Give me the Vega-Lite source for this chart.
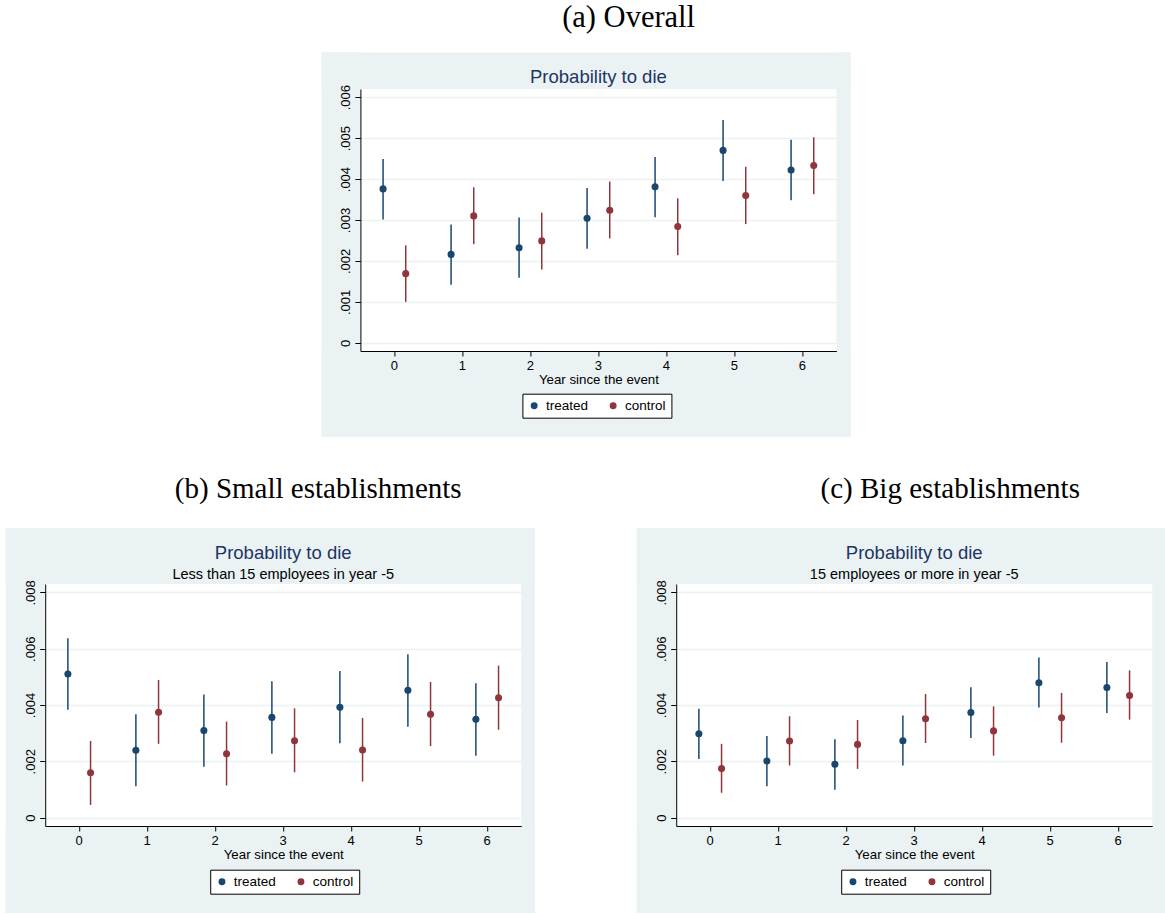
{
  "$schema": "https://vega.github.io/schema/vega-lite/v6.json",
  "background": "white",
  "padding": {"left": 5, "top": 2, "right": 0, "bottom": 0},
  "config": {
    "font": "Liberation Sans",
    "view": {"stroke": null, "fill": "white"},
    "axis": {
      "domainColor": "black", "domainWidth": 1, "tickColor": "black", "tickWidth": 1, "tickSize": 5,
      "labelColor": "black", "labelFont": "Liberation Sans", "labelFontSize": 13,
      "titleFont": "Liberation Sans", "titleFontSize": 13.3, "titleFontWeight": "normal", "titleColor": "black",
      "gridColor": "#EAF2F3", "gridWidth": 1.5
    },
    "legend": {
      "orient": "none", "zindex": 2, "direction": "horizontal", "title": null, "symbolType": "circle", "symbolSize": 48, "symbolStrokeWidth": 0,
      "labelFont": "Liberation Sans", "labelFontSize": 13.5, "labelColor": "black", "labelOffset": 5, "columnPadding": 18, "padding": 5,
      "strokeColor": "black", "fillColor": "white"
    }
  },
  "datasets": {
    "A": [
      {"year": 0, "group": "treated", "est": 0.00376, "lo": 0.00301, "hi": 0.00449},
      {"year": 1, "group": "treated", "est": 0.00216, "lo": 0.00142, "hi": 0.00289},
      {"year": 2, "group": "treated", "est": 0.00232, "lo": 0.00159, "hi": 0.00306},
      {"year": 3, "group": "treated", "est": 0.00304, "lo": 0.00230, "hi": 0.00378},
      {"year": 4, "group": "treated", "est": 0.00381, "lo": 0.00307, "hi": 0.00454},
      {"year": 5, "group": "treated", "est": 0.00470, "lo": 0.00395, "hi": 0.00544},
      {"year": 6, "group": "treated", "est": 0.00422, "lo": 0.00348, "hi": 0.00496},
      {"year": 0, "group": "control", "est": 0.00169, "lo": 0.00100, "hi": 0.00238},
      {"year": 1, "group": "control", "est": 0.00310, "lo": 0.00241, "hi": 0.00380},
      {"year": 2, "group": "control", "est": 0.00249, "lo": 0.00179, "hi": 0.00318},
      {"year": 3, "group": "control", "est": 0.00324, "lo": 0.00255, "hi": 0.00394},
      {"year": 4, "group": "control", "est": 0.00284, "lo": 0.00214, "hi": 0.00353},
      {"year": 5, "group": "control", "est": 0.00360, "lo": 0.00290, "hi": 0.00430},
      {"year": 6, "group": "control", "est": 0.00433, "lo": 0.00363, "hi": 0.00502}
    ],
    "B": [
      {"year": 0, "group": "treated", "est": 0.00510, "lo": 0.00383, "hi": 0.00637},
      {"year": 1, "group": "treated", "est": 0.00239, "lo": 0.00111, "hi": 0.00367},
      {"year": 2, "group": "treated", "est": 0.00309, "lo": 0.00181, "hi": 0.00437},
      {"year": 3, "group": "treated", "est": 0.00356, "lo": 0.00227, "hi": 0.00484},
      {"year": 4, "group": "treated", "est": 0.00392, "lo": 0.00264, "hi": 0.00521},
      {"year": 5, "group": "treated", "est": 0.00452, "lo": 0.00323, "hi": 0.00580},
      {"year": 6, "group": "treated", "est": 0.00349, "lo": 0.00220, "hi": 0.00477},
      {"year": 0, "group": "control", "est": 0.00159, "lo": 0.00045, "hi": 0.00272},
      {"year": 1, "group": "control", "est": 0.00374, "lo": 0.00262, "hi": 0.00489},
      {"year": 2, "group": "control", "est": 0.00227, "lo": 0.00114, "hi": 0.00341},
      {"year": 3, "group": "control", "est": 0.00273, "lo": 0.00161, "hi": 0.00388},
      {"year": 4, "group": "control", "est": 0.00240, "lo": 0.00128, "hi": 0.00354},
      {"year": 5, "group": "control", "est": 0.00367, "lo": 0.00254, "hi": 0.00482},
      {"year": 6, "group": "control", "est": 0.00426, "lo": 0.00312, "hi": 0.00540}
    ],
    "C": [
      {"year": 0, "group": "treated", "est": 0.00298, "lo": 0.00208, "hi": 0.00387},
      {"year": 1, "group": "treated", "est": 0.00201, "lo": 0.00111, "hi": 0.00290},
      {"year": 2, "group": "treated", "est": 0.00189, "lo": 0.00099, "hi": 0.00278},
      {"year": 3, "group": "treated", "est": 0.00273, "lo": 0.00185, "hi": 0.00363},
      {"year": 4, "group": "treated", "est": 0.00373, "lo": 0.00283, "hi": 0.00463},
      {"year": 5, "group": "treated", "est": 0.00479, "lo": 0.00391, "hi": 0.00569},
      {"year": 6, "group": "treated", "est": 0.00462, "lo": 0.00372, "hi": 0.00553},
      {"year": 0, "group": "control", "est": 0.00174, "lo": 0.00088, "hi": 0.00262},
      {"year": 1, "group": "control", "est": 0.00272, "lo": 0.00185, "hi": 0.00360},
      {"year": 2, "group": "control", "est": 0.00260, "lo": 0.00173, "hi": 0.00347},
      {"year": 3, "group": "control", "est": 0.00351, "lo": 0.00265, "hi": 0.00439},
      {"year": 4, "group": "control", "est": 0.00308, "lo": 0.00220, "hi": 0.00395},
      {"year": 5, "group": "control", "est": 0.00355, "lo": 0.00266, "hi": 0.00443},
      {"year": 6, "group": "control", "est": 0.00434, "lo": 0.00348, "hi": 0.00523}
    ]
  },
  "spacing": 38,
  "center": true,
  "resolve": {"scale": {"color": "independent", "stroke": "independent", "xOffset": "independent"}, "legend": {"color": "independent", "stroke": "independent"}},
  "vconcat": [
    {
      "title": {"text": "(a) Overall", "anchor": "middle", "frame": "bounds", "offset": 19, "dx": 42.5, "font": "Liberation Serif", "fontSize": 30.5, "fontWeight": "normal", "color": "black"},
      "resolve": {"scale": {"color": "independent", "stroke": "independent", "xOffset": "independent"}, "legend": {"color": "independent", "stroke": "independent"}},
      "vconcat": [
        {
          "width": 476, "height": 262,
          "title": {"text": "Probability to die", "anchor": "middle", "frame": "group", "offset": -34, "font": "Liberation Sans", "fontSize": 18.5, "fontWeight": "normal", "color": "#1e3466"},
          "resolve": {"scale": {"x": "independent"}, "axis": {"y": "independent"}},
          "layer": [
            {
              "data": {"values": [{}]},
              "layer": [
                {"mark": {"type": "rect", "color": "#EAF2F3"}, "encoding": {
                  "x": {"datum": -0.0815, "type": "quantitative", "scale": {"domain": [0, 1], "nice": false, "zero": false}, "axis": null},
                  "x2": {"datum": 1.0298},
                  "y": {"datum": 0.007094, "type": "quantitative", "axis": {"orient": "left", "values": [0, 0.001, 0.002, 0.003, 0.004, 0.005, 0.006], "grid": true, "labels": false, "ticks": false, "domain": false, "title": null, "zindex": 0}},
                  "y2": {"datum": 0.0062}}},
                {"mark": {"type": "rect", "color": "#EAF2F3"}, "encoding": {
                  "x": {"datum": -0.0815, "type": "quantitative", "scale": {"domain": [0, 1], "nice": false, "zero": false}, "axis": null},
                  "x2": {"datum": 1.0298},
                  "y": {"datum": -0.0002, "type": "quantitative", "axis": {"orient": "left", "values": [0, 0.001, 0.002, 0.003, 0.004, 0.005, 0.006], "grid": true, "labels": false, "ticks": false, "domain": false, "title": null, "zindex": 0}},
                  "y2": {"datum": -0.002293}}},
                {"mark": {"type": "rect", "color": "#EAF2F3"}, "encoding": {
                  "x": {"datum": -0.0815, "type": "quantitative", "scale": {"domain": [0, 1], "nice": false, "zero": false}, "axis": null},
                  "x2": {"datum": 0},
                  "y": {"datum": 0.007094, "type": "quantitative", "axis": {"orient": "left", "values": [0, 0.001, 0.002, 0.003, 0.004, 0.005, 0.006], "grid": true, "labels": false, "ticks": false, "domain": false, "title": null, "zindex": 0}},
                  "y2": {"datum": -0.002293}}},
                {"mark": {"type": "rect", "color": "#EAF2F3"}, "encoding": {
                  "x": {"datum": 1, "type": "quantitative", "scale": {"domain": [0, 1], "nice": false, "zero": false}, "axis": null},
                  "x2": {"datum": 1.0298},
                  "y": {"datum": 0.007094, "type": "quantitative", "axis": {"orient": "left", "values": [0, 0.001, 0.002, 0.003, 0.004, 0.005, 0.006], "grid": true, "labels": false, "ticks": false, "domain": false, "title": null, "zindex": 0}},
                  "y2": {"datum": -0.002293}}}
              ]
            },
            {
              "data": {"name": "A"},
              "layer": [
                {"mark": {"type": "point", "filled": true, "size": 50, "opacity": 1}, "encoding": {
                  "x": {"field": "year", "type": "ordinal", "scale": {"type": "band", "paddingInner": 0, "paddingOuter": 0}, "axis": {"orient": "bottom", "title": "Year since the event", "labelAngle": 0, "labelFontSize": 13, "bandPosition": 0.5, "labelPadding": 3, "titlePadding": 0, "grid": false, "zindex": 1}},
                  "xOffset": {"field": "group", "type": "nominal", "sort": ["treated", "control"], "scale": {"paddingOuter": 0.5, "paddingInner": 0}},
                  "y": {"field": "est", "type": "quantitative", "scale": {"domain": [-0.0002, 0.0062], "nice": false, "zero": false}, "axis": {"orient": "left", "values": [0, 0.001, 0.002, 0.003, 0.004, 0.005, 0.006], "labelExpr": "datum.value == 0 ? '0' : replace(format(datum.value, '.3f'), '0.', '.')", "labelFontSize": 13, "labelAngle": 270, "labelAlign": "center", "labelBaseline": "bottom", "labelPadding": 2, "tickSize": 5.5, "grid": false, "title": null, "zindex": 1, "labelOverlap": false}},
                  "color": {"field": "group", "type": "nominal", "scale": {"domain": ["treated", "control"], "range": ["#1a476f", "#90353b"]}, "legend": {"orient": "none", "legendX": 162, "legendY": 304.7, "zindex": 2, "direction": "horizontal", "title": null}}}},
                {"mark": {"type": "rule", "strokeWidth": 1.5}, "encoding": {
                  "x": {"field": "year", "type": "ordinal", "scale": {"type": "band", "paddingInner": 0, "paddingOuter": 0}},
                  "xOffset": {"field": "group", "type": "nominal", "sort": ["treated", "control"], "scale": {"paddingOuter": 0.5, "paddingInner": 0}},
                  "y": {"field": "lo", "type": "quantitative", "scale": {"domain": [-0.0002, 0.0062], "nice": false, "zero": false}},
                  "y2": {"field": "hi"},
                  "stroke": {"field": "group", "type": "nominal", "sort": ["treated", "control"], "scale": {"range": ["#1a476f", "#90353b"]}, "legend": null}}}
              ]
            }
          ]
        }
      ]
    },
    {
      "spacing": 101,
      "resolve": {"scale": {"color": "independent", "stroke": "independent", "xOffset": "independent"}, "legend": {"color": "independent", "stroke": "independent"}},
      "hconcat": [
        {
          "title": {"text": "(b) Small establishments", "anchor": "middle", "frame": "bounds", "offset": 24, "dx": 48, "font": "Liberation Serif", "fontSize": 29, "fontWeight": "normal", "color": "black"},
          "resolve": {"scale": {"color": "independent", "stroke": "independent", "xOffset": "independent"}, "legend": {"color": "independent", "stroke": "independent"}},
          "vconcat": [
            {
              "width": 476, "height": 242,
              "title": {"text": "Probability to die", "subtitle": "Less than 15 employees in year -5", "anchor": "middle", "frame": "group", "offset": -53, "font": "Liberation Sans", "fontSize": 18.5, "fontWeight": "normal", "color": "#1e3466", "subtitleFont": "Liberation Sans", "subtitleFontSize": 14.5, "subtitleColor": "black", "subtitlePadding": 5},
              "resolve": {"scale": {"x": "independent"}, "axis": {"y": "independent"}},
              "layer": [
                {
                  "data": {"values": [{}]},
                  "layer": [
                    {"mark": {"type": "rect", "color": "#EAF2F3"}, "encoding": {
                      "x": {"datum": -0.083, "type": "quantitative", "scale": {"domain": [0, 1], "nice": false, "zero": false}, "axis": null},
                      "x2": {"datum": 1.0285},
                      "y": {"datum": 0.01029, "type": "quantitative", "axis": {"orient": "left", "values": [0, 0.002, 0.004, 0.006, 0.008], "grid": true, "labels": false, "ticks": false, "domain": false, "title": null, "zindex": 0}},
                      "y2": {"datum": 0.0083}}},
                    {"mark": {"type": "rect", "color": "#EAF2F3"}, "encoding": {
                      "x": {"datum": -0.083, "type": "quantitative", "scale": {"domain": [0, 1], "nice": false, "zero": false}, "axis": null},
                      "x2": {"datum": 1.0285},
                      "y": {"datum": -0.0003, "type": "quantitative", "axis": {"orient": "left", "values": [0, 0.002, 0.004, 0.006, 0.008], "grid": true, "labels": false, "ticks": false, "domain": false, "title": null, "zindex": 0}},
                      "y2": {"datum": -0.00339}}},
                    {"mark": {"type": "rect", "color": "#EAF2F3"}, "encoding": {
                      "x": {"datum": -0.083, "type": "quantitative", "scale": {"domain": [0, 1], "nice": false, "zero": false}, "axis": null},
                      "x2": {"datum": 0},
                      "y": {"datum": 0.01029, "type": "quantitative", "axis": {"orient": "left", "values": [0, 0.002, 0.004, 0.006, 0.008], "grid": true, "labels": false, "ticks": false, "domain": false, "title": null, "zindex": 0}},
                      "y2": {"datum": -0.00339}}},
                    {"mark": {"type": "rect", "color": "#EAF2F3"}, "encoding": {
                      "x": {"datum": 1, "type": "quantitative", "scale": {"domain": [0, 1], "nice": false, "zero": false}, "axis": null},
                      "x2": {"datum": 1.0285},
                      "y": {"datum": 0.01029, "type": "quantitative", "axis": {"orient": "left", "values": [0, 0.002, 0.004, 0.006, 0.008], "grid": true, "labels": false, "ticks": false, "domain": false, "title": null, "zindex": 0}},
                      "y2": {"datum": -0.00339}}}
                  ]
                },
                {
                  "data": {"name": "B"},
                  "layer": [
                    {"mark": {"type": "point", "filled": true, "size": 50, "opacity": 1}, "encoding": {
                      "x": {"field": "year", "type": "ordinal", "scale": {"type": "band", "paddingInner": 0, "paddingOuter": 0}, "axis": {"orient": "bottom", "title": "Year since the event", "labelAngle": 0, "labelFontSize": 13, "bandPosition": 0.5, "labelPadding": 3, "titlePadding": 0, "grid": false, "zindex": 1}},
                      "xOffset": {"field": "group", "type": "nominal", "sort": ["treated", "control"], "scale": {"paddingOuter": 0.5, "paddingInner": 0}},
                      "y": {"field": "est", "type": "quantitative", "scale": {"domain": [-0.0003, 0.0083], "nice": false, "zero": false}, "axis": {"orient": "left", "values": [0, 0.002, 0.004, 0.006, 0.008], "labelExpr": "datum.value == 0 ? '0' : replace(format(datum.value, '.3f'), '0.', '.')", "labelFontSize": 13, "labelAngle": 270, "labelAlign": "center", "labelBaseline": "bottom", "labelPadding": 2, "tickSize": 5.5, "grid": false, "title": null, "zindex": 1, "labelOverlap": false}},
                      "color": {"field": "group", "type": "nominal", "scale": {"domain": ["treated", "control"], "range": ["#1a476f", "#90353b"]}, "legend": {"orient": "none", "legendX": 165, "legendY": 285.7, "zindex": 2, "direction": "horizontal", "title": null}}}},
                    {"mark": {"type": "rule", "strokeWidth": 1.5}, "encoding": {
                      "x": {"field": "year", "type": "ordinal", "scale": {"type": "band", "paddingInner": 0, "paddingOuter": 0}},
                      "xOffset": {"field": "group", "type": "nominal", "sort": ["treated", "control"], "scale": {"paddingOuter": 0.5, "paddingInner": 0}},
                      "y": {"field": "lo", "type": "quantitative", "scale": {"domain": [-0.0003, 0.0083], "nice": false, "zero": false}},
                      "y2": {"field": "hi"},
                      "stroke": {"field": "group", "type": "nominal", "sort": ["treated", "control"], "scale": {"range": ["#1a476f", "#90353b"]}, "legend": null}}}
                  ]
                }
              ]
            }
          ]
        },
        {
          "title": {"text": "(c) Big establishments", "anchor": "middle", "frame": "bounds", "offset": 24, "dx": 49, "font": "Liberation Serif", "fontSize": 29, "fontWeight": "normal", "color": "black"},
          "resolve": {"scale": {"color": "independent", "stroke": "independent", "xOffset": "independent"}, "legend": {"color": "independent", "stroke": "independent"}},
          "vconcat": [
            {
              "width": 476, "height": 242,
              "title": {"text": "Probability to die", "subtitle": "15 employees or more in year -5", "anchor": "middle", "frame": "group", "offset": -53, "font": "Liberation Sans", "fontSize": 18.5, "fontWeight": "normal", "color": "#1e3466", "subtitleFont": "Liberation Sans", "subtitleFontSize": 14.5, "subtitleColor": "black", "subtitlePadding": 5},
              "resolve": {"scale": {"x": "independent"}, "axis": {"y": "independent"}},
              "layer": [
                {
                  "data": {"values": [{}]},
                  "layer": [
                    {"mark": {"type": "rect", "color": "#EAF2F3"}, "encoding": {
                      "x": {"datum": -0.083, "type": "quantitative", "scale": {"domain": [0, 1], "nice": false, "zero": false}, "axis": null},
                      "x2": {"datum": 1.0285},
                      "y": {"datum": 0.01029, "type": "quantitative", "axis": {"orient": "left", "values": [0, 0.002, 0.004, 0.006, 0.008], "grid": true, "labels": false, "ticks": false, "domain": false, "title": null, "zindex": 0}},
                      "y2": {"datum": 0.0083}}},
                    {"mark": {"type": "rect", "color": "#EAF2F3"}, "encoding": {
                      "x": {"datum": -0.083, "type": "quantitative", "scale": {"domain": [0, 1], "nice": false, "zero": false}, "axis": null},
                      "x2": {"datum": 1.0285},
                      "y": {"datum": -0.0003, "type": "quantitative", "axis": {"orient": "left", "values": [0, 0.002, 0.004, 0.006, 0.008], "grid": true, "labels": false, "ticks": false, "domain": false, "title": null, "zindex": 0}},
                      "y2": {"datum": -0.00339}}},
                    {"mark": {"type": "rect", "color": "#EAF2F3"}, "encoding": {
                      "x": {"datum": -0.083, "type": "quantitative", "scale": {"domain": [0, 1], "nice": false, "zero": false}, "axis": null},
                      "x2": {"datum": 0},
                      "y": {"datum": 0.01029, "type": "quantitative", "axis": {"orient": "left", "values": [0, 0.002, 0.004, 0.006, 0.008], "grid": true, "labels": false, "ticks": false, "domain": false, "title": null, "zindex": 0}},
                      "y2": {"datum": -0.00339}}},
                    {"mark": {"type": "rect", "color": "#EAF2F3"}, "encoding": {
                      "x": {"datum": 1, "type": "quantitative", "scale": {"domain": [0, 1], "nice": false, "zero": false}, "axis": null},
                      "x2": {"datum": 1.0285},
                      "y": {"datum": 0.01029, "type": "quantitative", "axis": {"orient": "left", "values": [0, 0.002, 0.004, 0.006, 0.008], "grid": true, "labels": false, "ticks": false, "domain": false, "title": null, "zindex": 0}},
                      "y2": {"datum": -0.00339}}}
                  ]
                },
                {
                  "data": {"name": "C"},
                  "layer": [
                    {"mark": {"type": "point", "filled": true, "size": 50, "opacity": 1}, "encoding": {
                      "x": {"field": "year", "type": "ordinal", "scale": {"type": "band", "paddingInner": 0, "paddingOuter": 0}, "axis": {"orient": "bottom", "title": "Year since the event", "labelAngle": 0, "labelFontSize": 13, "bandPosition": 0.5, "labelPadding": 3, "titlePadding": 0, "grid": false, "zindex": 1}},
                      "xOffset": {"field": "group", "type": "nominal", "sort": ["treated", "control"], "scale": {"paddingOuter": 0.5, "paddingInner": 0}},
                      "y": {"field": "est", "type": "quantitative", "scale": {"domain": [-0.0003, 0.0083], "nice": false, "zero": false}, "axis": {"orient": "left", "values": [0, 0.002, 0.004, 0.006, 0.008], "labelExpr": "datum.value == 0 ? '0' : replace(format(datum.value, '.3f'), '0.', '.')", "labelFontSize": 13, "labelAngle": 270, "labelAlign": "center", "labelBaseline": "bottom", "labelPadding": 2, "tickSize": 5.5, "grid": false, "title": null, "zindex": 1, "labelOverlap": false}},
                      "color": {"field": "group", "type": "nominal", "scale": {"domain": ["treated", "control"], "range": ["#1a476f", "#90353b"]}, "legend": {"orient": "none", "legendX": 165, "legendY": 285.7, "zindex": 2, "direction": "horizontal", "title": null}}}},
                    {"mark": {"type": "rule", "strokeWidth": 1.5}, "encoding": {
                      "x": {"field": "year", "type": "ordinal", "scale": {"type": "band", "paddingInner": 0, "paddingOuter": 0}},
                      "xOffset": {"field": "group", "type": "nominal", "sort": ["treated", "control"], "scale": {"paddingOuter": 0.5, "paddingInner": 0}},
                      "y": {"field": "lo", "type": "quantitative", "scale": {"domain": [-0.0003, 0.0083], "nice": false, "zero": false}},
                      "y2": {"field": "hi"},
                      "stroke": {"field": "group", "type": "nominal", "sort": ["treated", "control"], "scale": {"range": ["#1a476f", "#90353b"]}, "legend": null}}}
                  ]
                }
              ]
            }
          ]
        }
      ]
    }
  ]
}
